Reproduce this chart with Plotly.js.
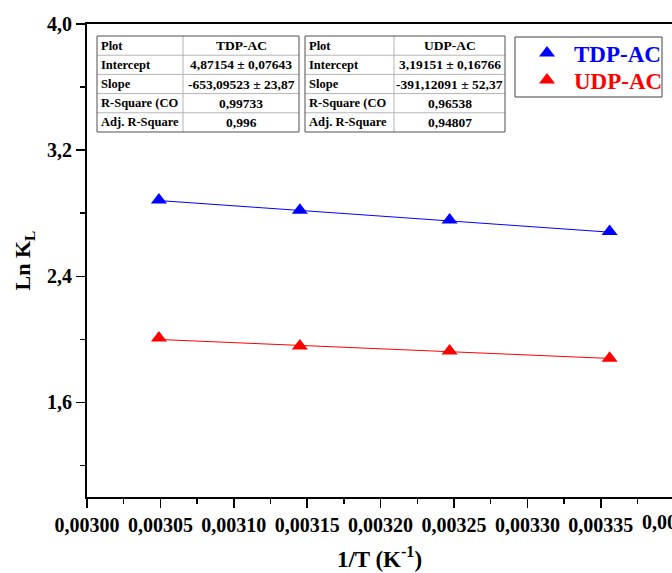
<!DOCTYPE html>
<html>
<head>
<meta charset="utf-8">
<script src="https://cdn.plot.ly/plotly-3.0.1.min.js"></script>
<style>
  html, body { margin: 0; padding: 0; background: #fff; }
  #chart { width: 672px; height: 573px; }
</style>
</head>
<body>
<div id="chart"></div>
<script>
// Inverse temperature, 1/T (K^-1)
const invT = [0.003049, 0.003145, 0.003247, 0.003356];

// Ln K_L for each adsorbent
const lnK_TDP = [2.884, 2.818, 2.757, 2.684];
const lnK_UDP = [2.008, 1.957, 1.926, 1.880];

// Linear fit results (Intercept, Slope) shown in the tables
const fitTDP = { intercept: 4.87154, slope: -653.09523 };
const fitUDP = { intercept: 3.19151, slope: -391.12091 };

// Series names
const seriesNames = ['TDP-AC', 'UDP-AC'];

// Table contents
const tableRowLabels = ['Plot', 'Intercept', 'Slope', 'R-Square (CO', 'Adj. R-Square'];
const tableTDP = ['TDP-AC', '4,87154 \u00b1 0,07643', '-653,09523 \u00b1 23,87', '0,99733', '0,996'];
const tableUDP = ['UDP-AC', '3,19151 \u00b1 0,16766', '-391,12091 \u00b1 52,37', '0,96538', '0,94807'];

// Axis tick labels
const xTickVals = [0.00300, 0.00305, 0.00310, 0.00315, 0.00320, 0.00325, 0.00330, 0.00335];
const xTickText = ['0,00300', '0,00305', '0,00310', '0,00315', '0,00320', '0,00325', '0,00330', '0,00335'];
const xLastTick = '0,00340';
const yTickVals = [1.6, 2.4, 3.2, 4.0];
const yTickText = ['1,6', '2,4', '3,2', '4,0'];

const BLUE = '#0000ff';
const RED = '#ff0000';
const SERIF = 'Liberation Serif';

// Plot area geometry in pixels (used to place tables and the key box)
const W = 672, H = 573;
const M = { l: 87, r: 0, t: 24, b: 76 };
const plotW = W - M.l - M.r, plotH = H - M.t - M.b;
const px = x => (x - M.l) / plotW;
const py = y => (H - M.b - y) / plotH;

function fitLine(fit) {
  const xs = [invT[0], invT[invT.length - 1]];
  return { x: xs, y: xs.map(v => fit.intercept + fit.slope * v) };
}

const lineTDP = fitLine(fitTDP);
const lineUDP = fitLine(fitUDP);

// Key box: symbol and label rows
const keyBox = { x0: 515, x1: 662, y0: 37, y1: 97 };
const keyRows = [53, 80];
const keySymbolX = 547;
const keyTextX = 572;

const traces = [
  { x: lineTDP.x, y: lineTDP.y, mode: 'lines', line: { color: BLUE, width: 1 },
    showlegend: false, hoverinfo: 'skip' },
  { x: lineUDP.x, y: lineUDP.y, mode: 'lines', line: { color: RED, width: 1 },
    showlegend: false, hoverinfo: 'skip' },
  { x: invT, y: lnK_TDP, mode: 'markers', name: seriesNames[0], showlegend: false,
    marker: { symbol: 'triangle-up', size: 14, color: BLUE } },
  { x: invT, y: lnK_UDP, mode: 'markers', name: seriesNames[1], showlegend: false,
    marker: { symbol: 'triangle-up', size: 14, color: RED } },
  // key symbols, placed on an overlay axis spanning the plot area
  { x: [px(keySymbolX), px(keySymbolX)], y: [py(keyRows[0]), py(keyRows[1])],
    xaxis: 'x2', yaxis: 'y2', mode: 'markers', showlegend: false, hoverinfo: 'skip',
    marker: { symbol: 'triangle-up', size: 14, color: [BLUE, RED] } }
];

// Build a fit-results table from shapes and annotations
const shapes = [];
const annotations = [];
function addTable(x0, x1, xDiv, y0, rowH, labels, values) {
  const nRows = labels.length;
  const y1 = y0 + rowH * nRows;
  for (let i = 1; i < nRows; i++) {
    const y = y0 + rowH * i;
    shapes.push({ type: 'line', xref: 'paper', yref: 'paper', x0: px(x0), x1: px(x1), y0: py(y), y1: py(y),
      line: { color: '#b4b4b4', width: 1 } });
  }
  shapes.push({ type: 'line', xref: 'paper', yref: 'paper', x0: px(xDiv), x1: px(xDiv), y0: py(y0), y1: py(y1),
    line: { color: '#b4b4b4', width: 1 } });
  shapes.push({ type: 'rect', xref: 'paper', yref: 'paper', x0: px(x0), x1: px(x1), y0: py(y0), y1: py(y1),
    line: { color: '#505050', width: 1 } });
  for (let i = 0; i < nRows; i++) {
    const yc = y0 + rowH * (i + 0.5);
    annotations.push({ xref: 'paper', yref: 'paper', x: px(x0 + 2), y: py(yc), xanchor: 'left', yanchor: 'middle',
      text: '<b>' + labels[i] + '</b>', showarrow: false,
      font: { family: SERIF, size: 12.5, color: '#000' } });
    annotations.push({ xref: 'paper', yref: 'paper', x: px((xDiv + x1) / 2), y: py(yc), xanchor: 'center', yanchor: 'middle',
      text: '<b>' + values[i] + '</b>', showarrow: false,
      font: { family: SERIF, size: 13.5, color: '#000' } });
  }
}
addTable(97, 299, 183, 36, 19.2, tableRowLabels, tableTDP);
addTable(305, 505, 394, 36, 19.2, tableRowLabels, tableUDP);

// Key box and labels
shapes.push({ type: 'rect', xref: 'paper', yref: 'paper',
  x0: px(keyBox.x0), x1: px(keyBox.x1), y0: py(keyBox.y0), y1: py(keyBox.y1),
  line: { color: '#404040', width: 1 }, fillcolor: 'rgba(0,0,0,0)' });
[BLUE, RED].forEach((c, i) => {
  annotations.push({ xref: 'paper', yref: 'paper', x: px(keyTextX), y: py(keyRows[i] + 1), xanchor: 'left', yanchor: 'middle',
    text: '<b>' + seriesNames[i] + '</b>', showarrow: false,
    font: { family: SERIF, size: 23, color: c } });
});

// Last x tick label, partly beyond the right edge
annotations.push({ xref: 'paper', yref: 'paper', x: px(674), y: py(522), xanchor: 'center', yanchor: 'middle',
  text: '<b>' + xLastTick + '</b>', showarrow: false,
  font: { family: SERIF, size: 20, color: '#000' } });

const layout = {
  width: W, height: H,
  margin: M,
  paper_bgcolor: '#fff', plot_bgcolor: '#fff',
  font: { family: SERIF, color: '#000' },
  showlegend: false,
  xaxis: {
    range: [0.0030, 0.0033985],
    tickmode: 'array', tickvals: xTickVals, ticktext: xTickText.map(t => '<b>' + t + '</b>'),
    ticks: 'outside', ticklen: 9, tickwidth: 1.5, tickcolor: '#000',
    minor: { dtick: 0.000025, tick0: 0.003, ticks: 'outside', ticklen: 5, tickwidth: 1.5, tickcolor: '#000' },
    showline: true, linecolor: '#000', linewidth: 2, mirror: true,
    showgrid: false, zeroline: false,
    tickfont: { family: SERIF, size: 20, color: '#000' },
    title: { text: '<b>1/T (K<sup>-1</sup>)</b>', standoff: 16,
      font: { family: SERIF, size: 23, color: '#000' } }
  },
  yaxis: {
    range: [1.0, 4.0],
    tickmode: 'array', tickvals: yTickVals, ticktext: yTickText.map(t => '<b>' + t + '</b>'),
    ticks: 'outside', ticklen: 9, tickwidth: 1.5, tickcolor: '#000',
    minor: { dtick: 0.4, tick0: 1.2, ticks: 'outside', ticklen: 5, tickwidth: 1.5, tickcolor: '#000' },
    showline: true, linecolor: '#000', linewidth: 2, mirror: false,
    showgrid: false, zeroline: false,
    tickfont: { family: SERIF, size: 20, color: '#000' },
    title: { text: '<b>Ln K<sub>L</sub></b>', standoff: 10,
      font: { family: SERIF, size: 22, color: '#000' } }
  },
  xaxis2: { overlaying: 'x', range: [0, 1], visible: false, fixedrange: true },
  yaxis2: { overlaying: 'y', range: [0, 1], visible: false, fixedrange: true },
  shapes: shapes,
  annotations: annotations
};

Plotly.newPlot('chart', traces, layout, { displayModeBar: false, staticPlot: true });
</script>
</body>
</html>
